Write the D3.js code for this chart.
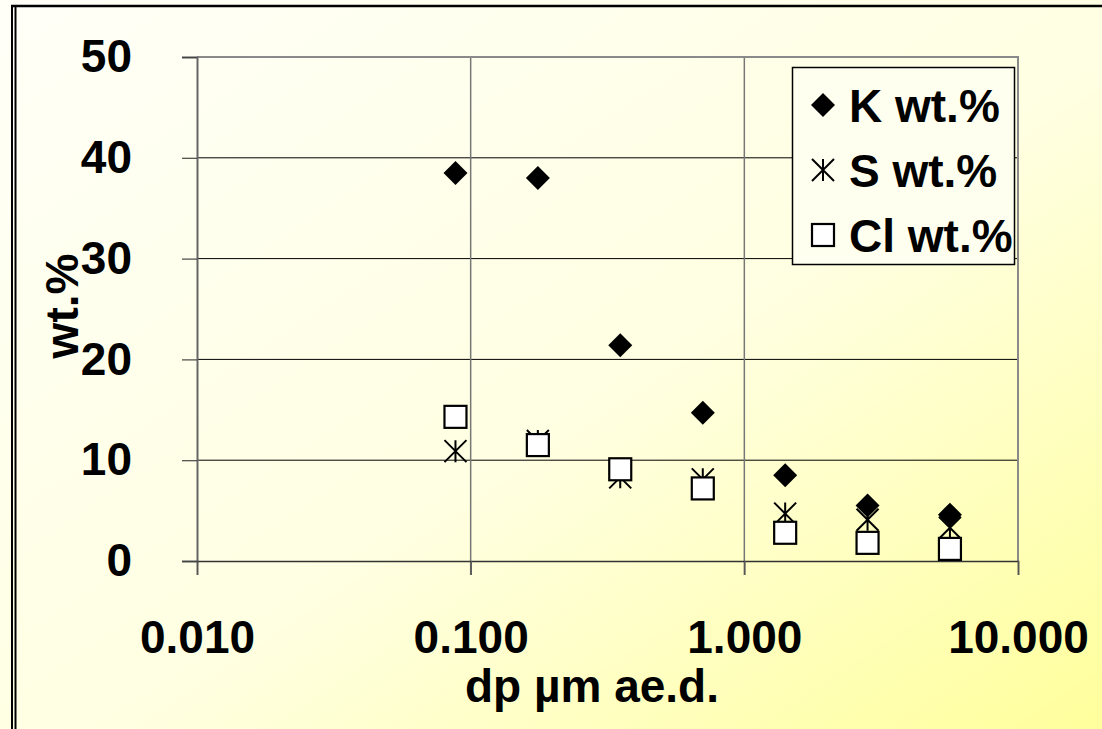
<!DOCTYPE html>
<html>
<head>
<meta charset="utf-8">
<script src="https://cdn.jsdelivr.net/npm/d3@7"></script>
<style>
  html, body { margin: 0; padding: 0; background: #fff; }
  svg { display: block; font-family: "Liberation Sans", Arial, sans-serif; }
</style>
</head>
<body>
<svg id="chart" width="1102" height="729"></svg>
<script>
// particle size (dp, µm ae.d.) and element mass fractions
const sizes = [0.088, 0.176, 0.352, 0.705, 1.41, 2.82, 5.64];
const kValues = [38.5, 38.0, 21.4, 14.7, 8.5, 5.5, 4.6];
const sValues = [10.9, 11.9, 8.3, 8.1, 4.7, 4.1, 3.3];
const clValues = [14.3, 11.5, 9.1, 7.2, 2.8, 1.8, 1.2];
const xTicks = [0.01, 0.1, 1, 10];
const yTicks = [0, 10, 20, 30, 40, 50];
const seriesNames = ["K wt.%", "S wt.%", "Cl wt.%"];

const svg = d3.select("#chart");
const fontSize = 46;

// background gradient
const grad = svg.append("defs").append("linearGradient")
    .attr("id", "bg")
    .attr("x1", "0%").attr("y1", "0%")
    .attr("x2", "100%").attr("y2", "100%");
grad.append("stop").attr("offset", "0%").attr("stop-color", "#fffff8");
grad.append("stop").attr("offset", "55%").attr("stop-color", "#ffffe2");
grad.append("stop").attr("offset", "100%").attr("stop-color", "#ffff9c");

svg.append("rect")
    .attr("width", 1102).attr("height", 729)
    .attr("fill", "url(#bg)");

// slide frame lines
svg.append("line").attr("x1", 11).attr("x2", 1102).attr("y1", 6).attr("y2", 6)
    .attr("stroke", "#000").attr("stroke-width", 2.5);
svg.append("line").attr("x1", 12).attr("x2", 12).attr("y1", 5).attr("y2", 729)
    .attr("stroke", "#000").attr("stroke-width", 2);
svg.append("line").attr("x1", 15.5).attr("x2", 15.5).attr("y1", 5).attr("y2", 729)
    .attr("stroke", "#000").attr("stroke-width", 2);

const x = d3.scaleLog().domain([0.01, 10]).range([197, 1018]);
const y = d3.scaleLinear().domain([0, 50]).range([561, 57]);

// horizontal gridlines
svg.append("g").selectAll("line")
    .data(yTicks.filter(d => d > 0 && d < 50))
    .join("line")
    .attr("x1", x(0.01)).attr("x2", x(10))
    .attr("y1", d => y(d)).attr("y2", d => y(d))
    .attr("stroke", "#000").attr("stroke-width", 1);

// vertical gridlines
svg.append("g").selectAll("line")
    .data(xTicks.filter(d => d > 0.01 && d < 10))
    .join("line")
    .attr("x1", d => x(d)).attr("x2", d => x(d))
    .attr("y1", y(50)).attr("y2", y(0) + 14)
    .attr("stroke", "#777").attr("stroke-width", 1.5);

// plot border top & right (gray)
svg.append("path")
    .attr("d", `M${x(0.01)},${y(50)}H${x(10)}V${y(0)}`)
    .attr("fill", "none").attr("stroke", "#8a8a8a").attr("stroke-width", 2);

// y axis
const yAxis = svg.append("g")
    .attr("transform", `translate(${x(0.01)},0)`)
    .call(d3.axisLeft(y).tickValues(yTicks).tickSize(15).tickPadding(50).tickFormat(d3.format("d")));
yAxis.select(".domain").attr("stroke", "#666").attr("stroke-width", 2);
yAxis.selectAll(".tick line").attr("stroke", "#444").attr("stroke-width", 1.2);
yAxis.selectAll(".tick text")
    .attr("font-size", fontSize).attr("font-weight", "bold")
    .attr("font-family", "Liberation Sans, Arial, sans-serif")
    .attr("fill", "#000");

// x axis
const xAxis = svg.append("g")
    .attr("transform", `translate(0,${y(0)})`)
    .call(d3.axisBottom(x).tickValues(xTicks).tickSize(14).tickPadding(45).tickFormat(d3.format(".3f")));
xAxis.select(".domain").attr("stroke", "#333").attr("stroke-width", 1.5);
xAxis.selectAll(".tick line").attr("stroke", "#555").attr("stroke-width", 1.5);
xAxis.selectAll(".tick text")
    .attr("font-size", fontSize).attr("font-weight", "bold")
    .attr("font-family", "Liberation Sans, Arial, sans-serif")
    .attr("fill", "#000");

// axis titles
svg.append("text")
    .attr("x", 592).attr("y", 702)
    .attr("text-anchor", "middle")
    .attr("font-size", fontSize).attr("font-weight", "bold")
    .text("dp µm ae.d.");

svg.append("text")
    .attr("transform", "translate(78,306) rotate(-90)")
    .attr("text-anchor", "middle")
    .attr("font-size", fontSize).attr("font-weight", "bold")
    .text("wt.%");

// marker shapes
const diamondPath = r => `M0,${-r}L${r},0L0,${r}L${-r},0Z`;
const starPath = r => `M${-r},${-r}L${r},${r}M${r},${-r}L${-r},${r}M0,${-r}V${r}`;

function drawDiamond(g) {
    g.append("path").attr("d", diamondPath(12)).attr("fill", "#000");
}
function drawStar(g) {
    g.append("path").attr("d", starPath(11)).attr("fill", "none")
        .attr("stroke", "#000").attr("stroke-width", 2);
}
function drawSquare(g) {
    g.append("rect").attr("x", -11).attr("y", -11).attr("width", 22).attr("height", 22)
        .attr("fill", "#fff").attr("stroke", "#000").attr("stroke-width", 2.2);
}

const series = [
    { values: kValues, draw: drawDiamond },
    { values: sValues, draw: drawStar },
    { values: clValues, draw: drawSquare }
];

// draw in order K, S, Cl so that squares sit on top
series.forEach(s => {
    svg.append("g").selectAll("g")
        .data(sizes.map((d, i) => [d, s.values[i]]))
        .join("g")
        .attr("transform", d => `translate(${x(d[0])},${y(d[1])})`)
        .each(function () { s.draw(d3.select(this)); });
});

// legend
const legend = svg.append("g");
legend.append("rect")
    .attr("x", 792.5).attr("y", 67.5).attr("width", 222).attr("height", 197)
    .attr("fill", "#fffff0").attr("stroke", "#000").attr("stroke-width", 1.5);

seriesNames.forEach((name, i) => {
    const cy = 105 + i * 65;
    const g = legend.append("g").attr("transform", `translate(823,${cy})`);
    series[i].draw(g);
    legend.append("text")
        .attr("x", 849).attr("y", cy + 17)
        .attr("font-size", fontSize).attr("font-weight", "bold")
        .text(name);
});
</script>
</body>
</html>
